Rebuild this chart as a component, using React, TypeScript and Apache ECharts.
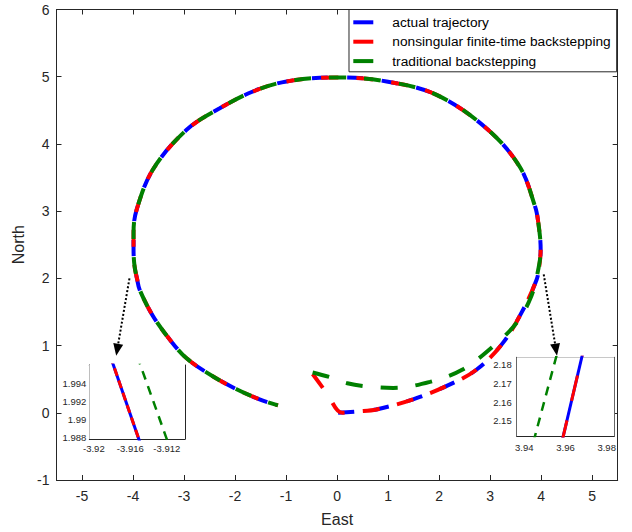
import React, { useEffect, useRef } from "react";
import * as echarts from "echarts";

// ---------- data ----------
const seriesNames = [
  "actual trajectory",
  "nonsingular finite-time backstepping",
  "traditional backstepping",
];
const seriesColors = ["#0000ff", "#ff0000", "#008000"];

// start legs (differ between the three trajectories)
const actualStart: number[][] = [
  [0.02, 0.0], [0.4, 0.02], [0.77, 0.05], [1.49, 0.2], [2.15, 0.4], [2.73, 0.64],
  [3.25, 1.04], [3.65, 1.54], [3.91, 1.98], [3.96, 2.16],
];
const nonsingularStart: number[][] = [
  [-0.5, 0.6], [-0.2, 0.29], [0.1, 0.0], [0.4, 0.02], [0.77, 0.05], [1.49, 0.2], [2.15, 0.4],
  [2.73, 0.64], [3.25, 1.04], [3.65, 1.54], [3.91, 1.98], [3.96, 2.16],
];
const traditionalStart: number[][] = [
  [-0.48, 0.6], [-0.14, 0.53], [0.2, 0.44], [0.6, 0.39], [1.1, 0.37], [1.82, 0.46],
  [2.45, 0.64], [3.06, 0.99], [3.52, 1.34], [3.81, 1.74], [3.95, 2.16],
];
// common arc (east side -> top -> west side -> end)
const commonArc: number[][] = [
  [3.99, 2.43], [3.94, 2.85], [3.88, 3.07], [3.58, 3.66], [2.93, 4.23], [1.95, 4.73],
  [0.97, 4.93], [0, 4.99], [-0.99, 4.93], [-1.65, 4.78], [-2.3, 4.53], [-2.95, 4.21],
  [-3.61, 3.62], [-3.93, 3.02], [-3.99, 2.68], [-3.99, 2.43], [-3.97, 2.18],
  [-3.92, 1.99], [-3.87, 1.83], [-3.61, 1.44], [-3.28, 1.09], [-2.95, 0.81],
  [-2.43, 0.54], [-1.97, 0.35], [-1.52, 0.2], [-1.16, 0.11],
];

const xTicks = [-5, -4, -3, -2, -1, 0, 1, 2, 3, 4, 5];
const yTicks = [-1, 0, 1, 2, 3, 4, 5, 6];

// left inset (zoom near x=-3.916, y=1.99)
const leftInsetActual: number[][] = [[-3.9182, 1.997], [-3.9148, 1.987]];
const leftInsetNonsingular: number[][] = [[-3.9182, 1.997], [-3.9148, 1.987]];
const leftInsetTraditional: number[][] = [[-3.91525, 1.997], [-3.91172, 1.987]];
const leftInsetXTicks = [-3.92, -3.918, -3.916, -3.914, -3.912, -3.91];
const leftInsetXLabels = [-3.92, -3.916, -3.912];
const leftInsetYTicks = [1.988, 1.99, 1.992, 1.994];

// right inset (zoom near x=3.96, y=2.16)
const rightInsetActual: number[][] = [[3.9585, 2.14], [3.9684, 2.186]];
const rightInsetNonsingular: number[][] = [[3.9585, 2.14], [3.9684, 2.186]];
const rightInsetTraditional: number[][] = [[3.9447, 2.14], [3.956, 2.186]];
const rightInsetXTicks = [3.94, 3.95, 3.96, 3.97, 3.98];
const rightInsetXLabels = [3.94, 3.96, 3.98];
const rightInsetYTicks = [2.15, 2.16, 2.17, 2.18];

// annotation arrows (data coordinates of main plot)
const arrowLeft = { from: [-4.07, 2.0], to: [-4.33, 0.85] };
const arrowRight = { from: [4.05, 2.06], to: [4.31, 0.85] };

// ---------- styling helpers ----------
const FONT = "'Liberation Sans', Arial, Helvetica, sans-serif";
const AX = "#262626";
const DASH_PERIOD = 35;
const DASH_MAIN = [17, 18];
const DASH_BLUE = [16, 19];
// phase lead of each series' dash relative to the blue one along the common arc
const DASH_LEAD = [0, 10, 18];

function axisPair(
  kind: "x" | "y",
  gridIndex: number,
  min: number,
  max: number,
  ticks: number[],
  labels: number[],
  fontSize: number,
  margin: number,
  tickLen: number,
  name?: string,
  nameGap?: number
) {
  const main: any = {
    type: "value",
    gridIndex,
    min,
    max,
    position: kind === "x" ? "bottom" : "left",
    axisLine: { show: true, onZero: false, lineStyle: { color: AX, width: 1 } },
    axisTick: { show: true, inside: true, length: tickLen, customValues: ticks, lineStyle: { color: AX } },
    axisLabel: {
      show: true,
      customValues: labels,
      color: AX,
      fontSize,
      fontFamily: FONT,
      margin,
      showMinLabel: true,
      showMaxLabel: true,
    },
    splitLine: { show: false },
  };
  if (name) {
    main.name = name;
    main.nameLocation = "middle";
    main.nameGap = nameGap;
    main.nameTextStyle = { color: AX, fontSize: 16, fontFamily: FONT };
  }
  const twin: any = {
    type: "value",
    gridIndex,
    min,
    max,
    position: kind === "x" ? "top" : "right",
    axisLine: { show: true, onZero: false, lineStyle: { color: AX, width: 1 } },
    axisTick: { show: true, inside: true, length: tickLen, customValues: ticks, lineStyle: { color: AX } },
    axisLabel: { show: false },
    splitLine: { show: false },
  };
  return [main, twin];
}

const mainData = [
  actualStart.concat(commonArc),
  nonsingularStart.concat(commonArc),
  traditionalStart.concat(commonArc),
];
const startLegs = [actualStart, nonsingularStart, traditionalStart];

function buildOption(): any {
  const xAxes = [
    ...axisPair("x", 0, -5.5, 5.5, xTicks, xTicks, 14, 9, 5, "East", 31),
    ...axisPair("x", 1, -3.9205, -3.91, leftInsetXTicks, leftInsetXLabels, 9.5, 4, 3),
    ...axisPair("x", 2, 3.9363, 3.9837, rightInsetXTicks, rightInsetXLabels, 9.5, 6, 3),
  ];
  const yAxes = [
    ...axisPair("y", 0, -1, 6, yTicks, yTicks, 14, 7, 5, "North", 17),
    ...axisPair("y", 1, 1.9878, 1.996, leftInsetYTicks, leftInsetYTicks, 9.5, 3, 3),
    ...axisPair("y", 2, 2.142, 2.1837, rightInsetYTicks, rightInsetYTicks, 9.5, 5, 3),
  ];

  const mainLine = (i: number) => ({
    name: seriesNames[i],
    type: "line",
    xAxisIndex: 0,
    yAxisIndex: 0,
    data: mainData[i],
    smooth: 0.35,
    symbol: "none",
    showSymbol: false,
    silent: true,
    color: seriesColors[i],
    lineStyle: {
      color: seriesColors[i],
      width: 4,
      type: i === 0 ? DASH_BLUE : DASH_MAIN,
      dashOffset: 0,
      cap: "butt",
    },
    z: 2 + i,
  });

  const insetLine = (
    i: number,
    gi: number,
    data: number[][],
    width: number,
    dash: any,
    offset: number
  ) => ({
    name: seriesNames[i] + " (inset " + gi + ")",
    type: "line",
    xAxisIndex: gi * 2,
    yAxisIndex: gi * 2,
    data,
    symbol: "none",
    showSymbol: false,
    silent: true,
    clip: true,
    color: seriesColors[i],
    lineStyle: { color: seriesColors[i], width, type: dash, dashOffset: offset },
    z: 12 + i,
  });

  return {
    animation: false,
    backgroundColor: "#ffffff",
    textStyle: { fontFamily: FONT },
    grid: [
      { left: 56.5, top: 9.5, right: 14.3, bottom: 51.5, containLabel: false },
      {
        left: 89.3, top: 365, width: 95.7, height: 74, show: true,
        backgroundColor: "#ffffff", borderWidth: 0, z: 10,
      },
      {
        left: 516.7, top: 357.3, width: 97.6, height: 78.7, show: true,
        backgroundColor: "#ffffff", borderWidth: 0, z: 10,
      },
    ],
    xAxis: xAxes,
    yAxis: yAxes,
    legend: {
      show: true,
      data: seriesNames,
      orient: "vertical",
      left: 349,
      top: 9.5,
      icon: "rect",
      itemWidth: 20,
      itemHeight: 4,
      itemGap: 5.4,
      padding: [5.8, 6, 3.7, 4.3],
      borderColor: AX,
      borderWidth: 1,
      borderRadius: 0,
      backgroundColor: "#ffffff",
      selectedMode: false,
      textStyle: {
        color: "#000000",
        fontSize: 13.7,
        fontFamily: FONT,
        lineHeight: 14,
        padding: [0, 0, 0, 14],
      },
      z: 20,
    },
    series: [
      mainLine(0),
      mainLine(1),
      mainLine(2),
      insetLine(0, 1, leftInsetActual, 3, "solid", 0),
      insetLine(1, 1, leftInsetNonsingular, 3, [8, 5], 0),
      insetLine(2, 1, leftInsetTraditional, 2.5, [9, 7], 0),
      insetLine(0, 2, rightInsetActual, 3, "solid", 0),
      insetLine(1, 2, rightInsetNonsingular, 3, [26, 20], 6),
      insetLine(2, 2, rightInsetTraditional, 2.5, [9, 7], 2),
    ],
  };
}

function pixelLength(chart: any, pts: number[][], extra: number[]) {
  const all = pts.concat([extra]);
  let L = 0;
  let prev = chart.convertToPixel({ gridIndex: 0 }, all[0]);
  for (let k = 1; k < all.length; k++) {
    const p = chart.convertToPixel({ gridIndex: 0 }, all[k]);
    L += Math.hypot(p[0] - prev[0], p[1] - prev[1]);
    prev = p;
  }
  return L;
}

function arrowGraphics(chart: any, arrow: { from: number[]; to: number[] }) {
  const p0 = chart.convertToPixel({ gridIndex: 0 }, arrow.from);
  const p1 = chart.convertToPixel({ gridIndex: 0 }, arrow.to);
  const dx = p1[0] - p0[0];
  const dy = p1[1] - p0[1];
  const len = Math.sqrt(dx * dx + dy * dy);
  const ux = dx / len;
  const uy = dy / len;
  const headLen = 12;
  const headHalf = 5;
  const bx = p1[0] - ux * headLen;
  const by = p1[1] - uy * headLen;
  const px = -uy * headHalf;
  const py = ux * headHalf;
  return [
    {
      type: "line",
      shape: { x1: p0[0], y1: p0[1], x2: bx, y2: by },
      style: { stroke: "#000000", lineWidth: 2, lineDash: [2, 2] },
      z: 30,
      silent: true,
    },
    {
      type: "polygon",
      shape: { points: [[p1[0], p1[1]], [bx + px, by + py], [bx - px, by - py]] },
      style: { fill: "#000000" },
      z: 30,
      silent: true,
    },
  ];
}

export default function App() {
  const ref = useRef<HTMLDivElement>(null);
  useEffect(() => {
    if (!ref.current) return;
    const chart = echarts.init(ref.current, null, { renderer: "svg" });
    chart.setOption(buildOption());
    // stagger dash phases so that all three trajectories show along the shared arc
    const junction = commonArc[0];
    const L = startLegs.map((leg) => pixelLength(chart, leg, junction));
    const offsets = L.map((Li, i) => {
      const d = L[0] - Li + DASH_LEAD[i];
      return ((d % DASH_PERIOD) + DASH_PERIOD) % DASH_PERIOD;
    });
    const g = [...arrowGraphics(chart, arrowLeft), ...arrowGraphics(chart, arrowRight)];
    chart.setOption({
      graphic: g,
      series: offsets.map((o) => ({ lineStyle: { dashOffset: o } })),
    });
    return () => chart.dispose();
  }, []);
  return (
    <div
      ref={ref}
      style={{ position: "fixed", left: 0, top: 0, width: 632, height: 532, background: "#fff" }}
    />
  );
}
